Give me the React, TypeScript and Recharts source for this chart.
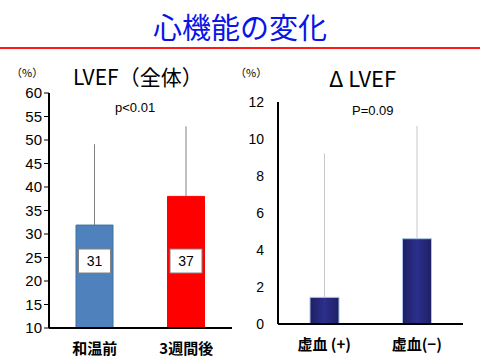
import { BarChart, Bar, XAxis, YAxis, ErrorBar, LabelList, Cell } from 'recharts';

// LVEF (全体)
const lvefGroups = ['和温前', '3週間後'];
const lvefMeans = [31.9, 38.0];
const lvefSd = [17.2, 14.9];
const lvefLabels = ['31', '37'];
const lvefColors = ['#4f81bd', '#ff0000'];
const lvefTicks = [10, 15, 20, 25, 30, 35, 40, 45, 50, 55, 60];

// ΔLVEF
const deltaGroups = ['虚血 (+)', '虚血(−)'];
const deltaMeans = [1.44, 4.61];
const deltaSd = [7.78, 6.1];
const deltaTicks = [0, 2, 4, 6, 8, 10, 12];

const jp = '"Noto Sans CJK JP", sans-serif';
const num = '"Liberation Sans", Arial, sans-serif';

const lvefData = lvefGroups.map((g, i) => ({
  name: g,
  value: lvefMeans[i],
  err: [0, lvefSd[i]],
  label: lvefLabels[i],
}));

const deltaData = deltaGroups.map((g, i) => ({
  name: g,
  value: deltaMeans[i],
  err: [0, deltaSd[i]],
}));

/** white value box sitting inside the bar */
const BoxLabel = (props: any) => {
  const { x, y, width, height, value } = props;
  const cx = x + width / 2;
  const cy = y + height - 67;
  return (
    <g>
      <rect x={cx - 16} y={cy - 12} width={32} height={24} fill="#fff" stroke="#808080" strokeWidth={1} />
      <text x={cx} y={cy + 5} textAnchor="middle" fontSize={14} fontFamily={num} fill="#000">
        {value}
      </text>
    </g>
  );
};

const catTick = (props: any) => {
  const { x, y, payload } = props;
  return (
    <text x={x} y={y + 18} textAnchor="middle" fontSize={15} fontWeight="bold" fontFamily={jp} fill="#000">
      {payload.value}
    </text>
  );
};

export default function App() {
  return (
    <div style={{ position: 'absolute', left: 0, top: 0, width: 480, height: 360, background: '#fff', overflow: 'hidden' }}>
      <div
        style={{
          position: 'absolute',
          left: 0,
          top: 5,
          width: 480,
          textAlign: 'center',
          color: '#0a14e6',
          fontFamily: jp,
          fontSize: 29,
          lineHeight: '42px',
        }}
      >
        心機能の変化
      </div>
      <div style={{ position: 'absolute', left: 0, top: 47, width: 480, height: 2, background: '#ff1a1a' }} />

      {/* left panel */}
      <div style={{ position: 'absolute', left: 11, top: 64, fontSize: 11, fontFamily: jp }}>（%）</div>
      <div style={{ position: 'absolute', left: 73, top: 61, fontSize: 21, fontFamily: jp, whiteSpace: 'nowrap' }}>
        LVEF（全体）
      </div>
      <div style={{ position: 'absolute', left: 115, top: 100, fontSize: 13, fontFamily: num }}>p&lt;0.01</div>

      <div style={{ position: 'absolute', left: 0, top: 0 }}>
        <BarChart width={240} height={360} data={lvefData} margin={{ top: 93, right: 8, left: 0, bottom: 0 }}>
          <XAxis
            dataKey="name"
            tick={catTick}
            tickLine={false}
            axisLine={{ stroke: '#000', strokeWidth: 2 }}
            height={32}
          />
          <YAxis
            domain={[10, 60]}
            ticks={lvefTicks}
            interval={0}
            width={49}
            tick={{ fontSize: 15, fill: '#000', fontFamily: num }}
            tickLine={{ stroke: '#000' }}
            tickSize={5}
            axisLine={{ stroke: '#000', strokeWidth: 2 }}
            allowDataOverflow
          />
          <Bar dataKey="value" barSize={37} isAnimationActive={false}>
            {lvefData.map((d, i) => (
              <Cell key={d.name} fill={lvefColors[i]} stroke={i === 0 ? '#41719c' : '#ff0000'} strokeWidth={1} />
            ))}
            <ErrorBar dataKey="err" width={0} stroke="#7f7f7f" strokeWidth={1} direction="y" />
            <LabelList dataKey="label" content={BoxLabel} />
          </Bar>
        </BarChart>
      </div>

      {/* right panel */}
      <div style={{ position: 'absolute', left: 235, top: 64, fontSize: 11, fontFamily: jp }}>（%）</div>
      <div style={{ position: 'absolute', left: 329, top: 61, fontSize: 22, fontFamily: jp, whiteSpace: 'nowrap' }}>
        Δ LVEF
      </div>
      <div style={{ position: 'absolute', left: 352, top: 103, fontSize: 13, fontFamily: num }}>P=0.09</div>

      <div style={{ position: 'absolute', left: 240, top: 0 }}>
        <BarChart width={240} height={360} data={deltaData} margin={{ top: 102, right: 17, left: 0, bottom: 0 }}>
          <defs>
            <linearGradient id="navy" x1="0" y1="0" x2="1" y2="0">
              <stop offset="0%" stopColor="#1e2062" />
              <stop offset="50%" stopColor="#2c2f8c" />
              <stop offset="100%" stopColor="#1e2062" />
            </linearGradient>
          </defs>
          <XAxis
            dataKey="name"
            tick={catTick}
            tickLine={false}
            axisLine={{ stroke: '#000', strokeWidth: 2 }}
            height={36}
          />
          <YAxis
            domain={[0, 12]}
            ticks={deltaTicks}
            interval={0}
            width={38}
            tick={{ fontSize: 14, fill: '#000', fontFamily: num, dx: -6 }}
            tickLine={false}
            axisLine={{ stroke: '#000', strokeWidth: 2 }}
          />
          <Bar dataKey="value" barSize={29} fill="url(#navy)" stroke="#a9c4e8" strokeWidth={1} isAnimationActive={false}>
            <ErrorBar dataKey="err" width={0} stroke="#c8c8c8" strokeWidth={1} direction="y" />
          </Bar>
        </BarChart>
      </div>
    </div>
  );
}
